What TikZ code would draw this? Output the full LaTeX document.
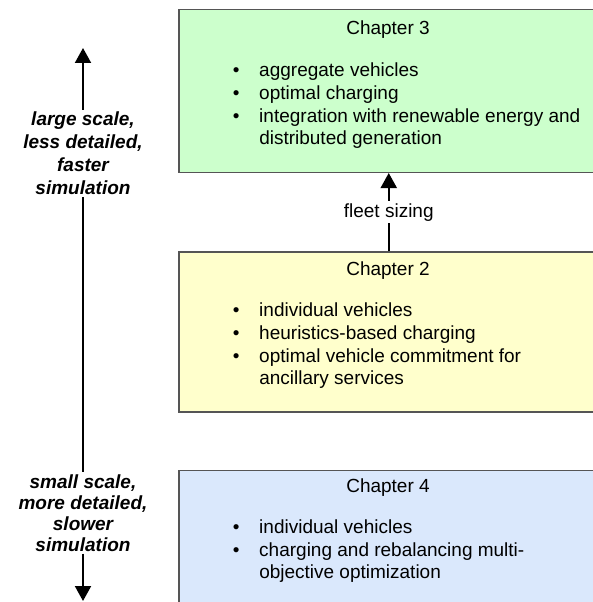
\documentclass[tikz,border=0pt]{standalone}
\usepackage{fontspec}
\setmainfont{Liberation Sans}
\usetikzlibrary{arrows.meta}

\definecolor{boxgreen}{HTML}{CCFFCC}
\definecolor{boxyellow}{HTML}{FFFFCC}
\definecolor{boxblue}{HTML}{DAE8FC}
\definecolor{boxline}{HTML}{555555}

\newcommand{\bulletlist}[1]{\begin{tabular}[t]{@{}l@{\hspace{19.7pt}}l@{}}#1\end{tabular}}

\begin{document}
\begin{tikzpicture}[x=1pt,y=-1pt,
	chbox/.style={ draw=boxline, line width=1.5pt, minimum width=420pt, inner sep=0pt, anchor=north west },
	chtitle/.style={ anchor=base, inner sep=0pt, font=\fontsize{19}{22.7}\selectfont },
	chlist/.style={ anchor=base west, inner sep=0pt, font=\fontsize{19}{22.7}\selectfont },
	scalelbl/.style={ fill=white, inner sep=2pt, align=center, font=\fontsize{19}{#1}\selectfont\bfseries\itshape },
	arr/.style={ line width=2pt, -{Triangle[length=15pt,width=16pt]} }
]
\clip (0,0) rectangle (593,602);

\node at (178,8.7) (ch3) [chbox, fill=boxgreen, minimum height=162.8pt] {};
\node at (178,251.3) (ch2) [chbox, fill=boxyellow, minimum height=160pt] {};
\node at (178,469.7) (ch4) [chbox, fill=boxblue, minimum height=200pt] {};

\node at (388,35) (ch3title) [chtitle] {Chapter 3};
\node at (388,275.7) (ch2title) [chtitle] {Chapter 2};
\node at (388,492) (ch4title) [chtitle] {Chapter 4};

\node at (232.7,76.7) (ch3list) [chlist] {\bulletlist{
	\textbullet & aggregate vehicles\\
	\textbullet & optimal charging\\
	\textbullet & integration with renewable energy and\\
	& distributed generation}};
\node at (232.7,316.7) (ch2list) [chlist] {\bulletlist{
	\textbullet & individual vehicles\\
	\textbullet & heuristics-based charging\\
	\textbullet & optimal vehicle commitment for\\
	& ancillary services}};
\node at (232.7,533.3) (ch4list) [chlist] {\bulletlist{
	\textbullet & individual vehicles\\
	\textbullet & charging and rebalancing multi-\\
	& objective optimization}};

\draw[arr] (ch2.north) to node[fill=white, inner sep=2pt, font=\fontsize{19}{22.7}\selectfont] (fleet) {fleet sizing} (ch3.south);

% scale axis on the left
\coordinate (uptip) at (83,48);
\coordinate (downtip) at (83,601);
\node at (83,153.5) (fastlbl) [scalelbl=23] {large scale,\\less detailed,\\faster\\simulation};
\node at (83,513) (slowlbl) [scalelbl=21] {small scale,\\more detailed,\\slower\\simulation};
\draw[arr] (fastlbl) to (uptip);
\draw[line width=2pt] (fastlbl) to (slowlbl);
\draw[arr] (slowlbl) to (downtip);

\end{tikzpicture}
\end{document}
